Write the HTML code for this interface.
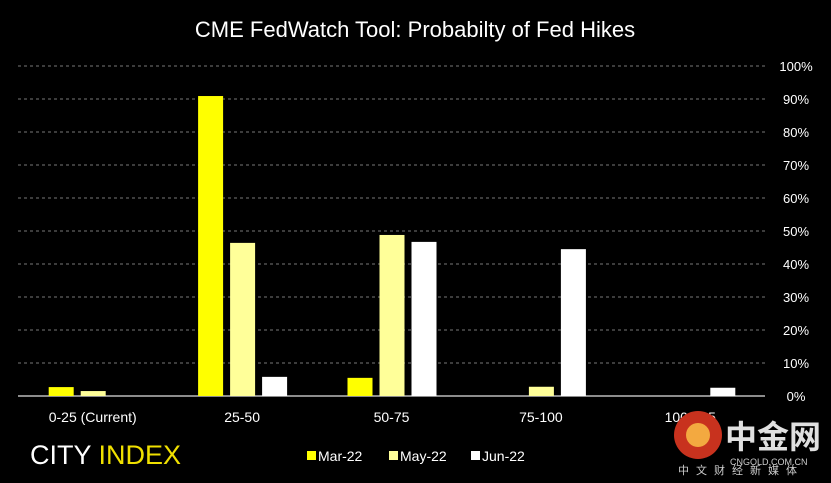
<!DOCTYPE html>
<html><head><meta charset="utf-8"><style>
html,body{margin:0;padding:0;background:#000;}
svg{display:block;font-family:"Liberation Sans","Noto Sans CJK SC",sans-serif;}
</style></head><body>
<svg id="c" width="831" height="483" viewBox="0 0 831 483">
<rect width="831" height="483" fill="#000"/>
<text x="415" y="37" fill="#fff" font-size="22" text-anchor="middle">CME FedWatch Tool: Probabilty of Fed Hikes</text>
<g id="grid"></g><g id="bars"></g><g id="xl"></g>
<text x="30" y="464" fill="#fff" font-size="27">CITY <tspan fill="#f0e000">INDEX</tspan></text>
<g id="legend"></g>
<g>
<circle cx="698" cy="435" r="24" fill="#c8321e"/><circle cx="698" cy="435" r="12" fill="#f3a940"/>
<text x="725" y="448" fill="#e0e0e0" font-size="32" font-weight="bold">中金网</text>
<text x="730" y="465" fill="#ccc" font-size="9">CNGOLD.COM.CN</text>
<text x="678" y="474" fill="#ccc" font-size="11" letter-spacing="7">中文财经新媒体</text>
</g>
</svg>
<script>
const categories=["0-25 (Current)","25-50","50-75","75-100","100-125"];
const seriesNames=["Mar-22","May-22","Jun-22"];
const mar=[2.7,90.9,5.5,0,0];
const may=[1.5,46.4,48.8,2.8,0];
const jun=[0,5.8,46.7,44.5,2.5];
const yTicks=[0,10,20,30,40,50,60,70,80,90,100];
const colors=["#ffff00","#ffff99","#ffffff"];
const NS="http://www.w3.org/2000/svg";
const x0=18,x1=765,y0=396,y1=66;
const band=(x1-x0)/categories.length;
const xc=i=>x0+band*(i+0.5);
const y=v=>y0-(v/100)*(y0-y1);
function mk(t,a,p){const e=document.createElementNS(NS,t);for(const k in a)e.setAttribute(k,a[k]);p.appendChild(e);return e;}
const g=document.getElementById('grid');
yTicks.forEach(t=>{
  if(t>0){const l=mk('line',{x1:x0,x2:x1,y1:y(t),y2:y(t),stroke:'#777','stroke-dasharray':'3,3','stroke-width':1},g);
  
  }
  const tx=mk('text',{x:796,y:y(t)+5,fill:'#fff','font-size':13,'text-anchor':'middle'},g);tx.textContent=t+'%';
  
  
});
const ax=mk('line',{x1:x0,x2:x1,y1:y0,y2:y0,stroke:'#bbb','stroke-width':1.5},g);


const b=document.getElementById('bars');const series=[mar,may,jun];const bw=25,step=32;
series.forEach((s,si)=>s.forEach((v,i)=>{
  if(v<=0)return;
  const r=mk('rect',{x:xc(i)-44+si*step,y:y(v),width:bw,height:y0-y(v),fill:colors[si]},b);
  
  
}));
const xl=document.getElementById('xl');
categories.forEach((c,i)=>{const t=mk('text',{x:xc(i),y:422,fill:'#fff','font-size':14,'text-anchor':'middle'},xl);t.textContent=c;
  
  });
const lg=document.getElementById('legend');const lx=[307,389,471];
seriesNames.forEach((n,i)=>{
  const e=mk('g',{},lg);
  
  
  mk('rect',{x:lx[i],y:451,width:9,height:9,fill:colors[i]},e);
  const t=mk('text',{x:lx[i]+11,y:461,fill:'#fff','font-size':14},e);t.textContent=n;
});
</script>
</body></html>
